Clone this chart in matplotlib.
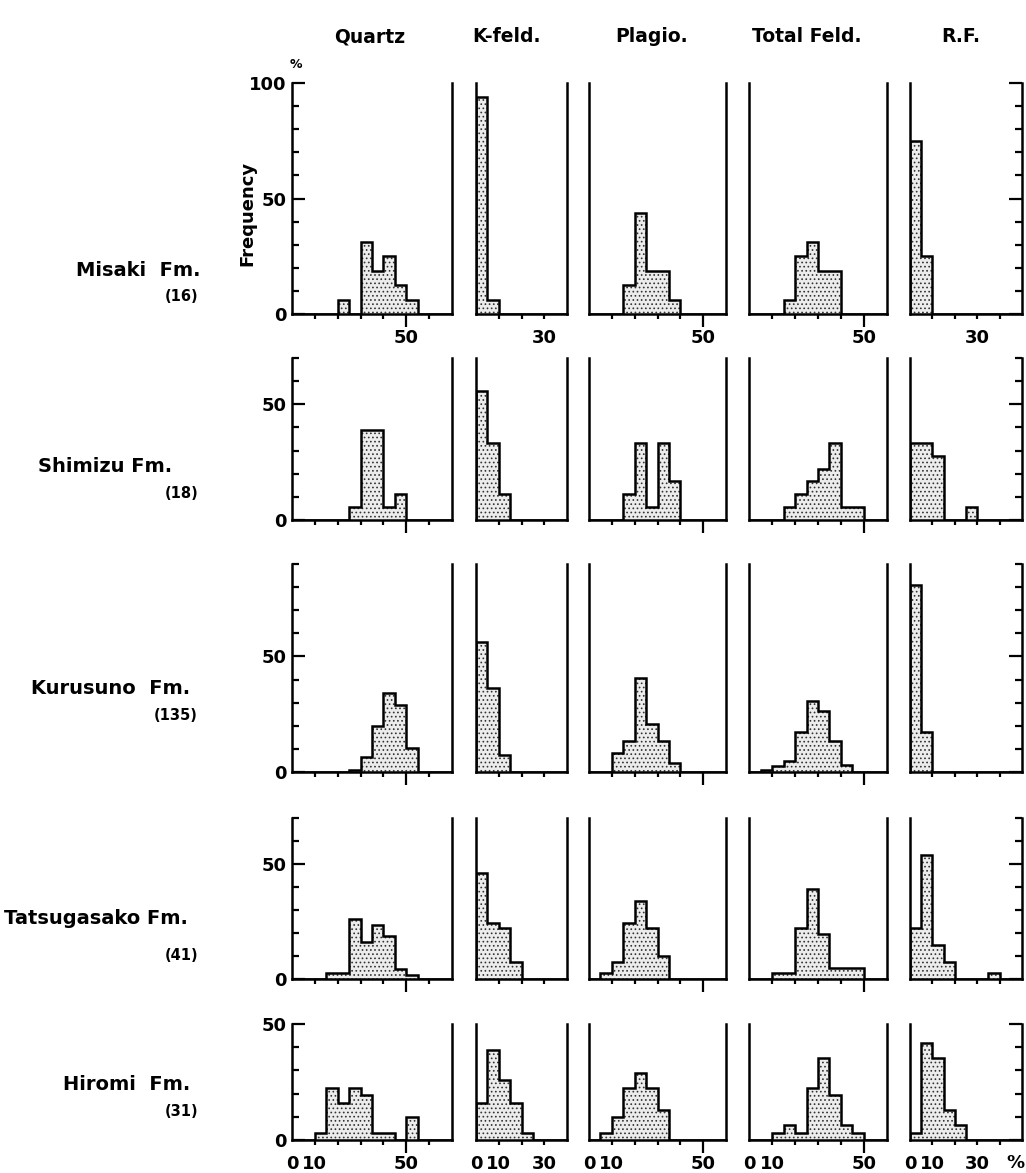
import matplotlib.pyplot as plt

plt.rcParams['font.family'] = ['DejaVu Sans']
plt.rcParams['font.weight'] = 'bold'
plt.rcParams['hatch.linewidth'] = 0.7
plt.rcParams['hatch.color'] = '#222222'

# ---- data (percent of samples in each 5 % class, classes start at 0) ----
formations = ['Misaki  Fm.', 'Shimizu Fm.', 'Kurusuno  Fm.', 'Tatsugasako Fm.', 'Hiromi  Fm.']
counts = ['(16)', '(18)', '(135)', '(41)', '(31)']
minerals = ['Quartz', 'K-feld.', 'Plagio.', 'Total Feld.', 'R.F.']
bin_width = 5
x_max = [70, 40, 60, 60, 50]
y_max = [100, 70, 90, 70, 50]

quartz = [
    [0, 0, 0, 0, 6.25, 0, 31.25, 18.75, 25, 12.5, 6.25, 0, 0, 0],
    [0, 0, 0, 0, 0, 5.6, 38.9, 38.9, 5.6, 11.1, 0, 0, 0, 0],
    [0, 0, 0, 0, 0, 0.7, 6.7, 20.0, 34.1, 28.9, 10.4, 0, 0, 0],
    [0, 0, 0, 2.4, 2.4, 26.3, 15.9, 23.4, 18.7, 4.3, 1.9, 0, 0, 0],
    [0, 0, 3.2, 22.6, 16.1, 22.6, 19.4, 3.2, 3.2, 0, 9.7, 0, 0, 0],
]
kfeld = [
    [93.75, 6.25, 0, 0, 0, 0, 0, 0],
    [55.6, 33.3, 11.1, 0, 0, 0, 0, 0],
    [56.3, 36.3, 7.4, 0, 0, 0, 0, 0],
    [46.3, 24.4, 22.0, 7.3, 0, 0, 0, 0],
    [16.1, 38.7, 25.8, 16.1, 3.2, 0, 0, 0],
]
plagio = [
    [0, 0, 0, 12.5, 43.75, 18.75, 18.75, 6.25, 0, 0, 0, 0],
    [0, 0, 0, 11.1, 33.3, 5.6, 33.3, 16.7, 0, 0, 0, 0],
    [0, 0, 8.3, 13.2, 40.5, 20.8, 13.2, 3.7, 0, 0, 0, 0],
    [0, 2.4, 7.3, 24.4, 34.1, 22.0, 9.8, 0, 0, 0, 0, 0],
    [0, 3.2, 9.7, 22.6, 29.0, 22.6, 12.9, 0, 0, 0, 0, 0],
]
total_feld = [
    [0, 0, 0, 6.25, 25, 31.25, 18.75, 18.75, 0, 0, 0, 0],
    [0, 0, 0, 5.6, 11.1, 16.7, 22.2, 33.3, 5.6, 5.6, 0, 0],
    [0, 0.7, 2.5, 4.8, 17.3, 30.7, 26.3, 13.2, 2.9, 0, 0, 0],
    [0, 0, 2.4, 2.4, 22.0, 39.0, 19.5, 4.9, 4.9, 4.9, 0, 0],
    [0, 0, 3.2, 6.5, 3.2, 22.6, 35.5, 19.4, 6.5, 3.2, 0, 0],
]
rock_frag = [
    [75, 25, 0, 0, 0, 0, 0, 0, 0, 0],
    [33.3, 33.3, 27.8, 0, 0, 5.6, 0, 0, 0, 0],
    [80.7, 17.3, 0, 0, 0, 0, 0, 0, 0, 0],
    [22.0, 53.7, 14.6, 7.3, 0, 0, 0, 2.4, 0, 0],
    [3.2, 41.9, 35.5, 12.9, 6.5, 0, 0, 0, 0, 0],
]
all_data = [quartz, kfeld, plagio, total_feld, rock_frag]

long_ticks = [[50], [], [50], [50], []]
top_labels = [['50'], ['30'], ['50'], ['50'], ['30']]
top_label_x = [[50], [30], [50], [50], [30]]
bottom_labels = [['0', '10', '50'], ['0', '10', '30'], ['0', '10', '50'], ['0', '10', '50'], ['0', '10', '30']]
bottom_label_x = [[0, 10, 50], [0, 10, 30], [0, 10, 50], [0, 10, 50], [0, 10, 30]]

# ---- layout in pixels ----
W, H = 1026, 1173
col_px = [(292, 452), (476, 567), (589, 726), (749, 887), (910, 1022)]
row_px = [(83, 314), (358, 520), (564, 772), (818, 979), (1024, 1140)]
title_x = [370, 506, 652, 807, 961]
name_right = [200, 172, 190, 188, 190]
name_y = [271, 466, 689, 918, 1084]
count_y = [296, 493, 716, 955, 1112]

fig = plt.figure(figsize=(W / 100, H / 100), dpi=100)

for c, name in enumerate(minerals):
    fig.text(title_x[c] / W, 1 - 37 / H, name, ha='center', va='center', fontsize=13.5)

for r in range(5):
    top, base = row_px[r]
    for c in range(5):
        left, right = col_px[c]
        ax = fig.add_axes([left / W, 1 - base / H, (right - left) / W, (base - top) / H])
        vals = all_data[c][r]
        edges = [i * bin_width for i in range(len(vals) + 1)]
        ax.stairs(vals, edges, fill=True, facecolor='#ececec', edgecolor='#333333',
                  hatch='....', linewidth=0)
        ax.stairs(vals, edges, color='black', linewidth=1.8)
        ax.set_xlim(0, x_max[c])
        ax.set_ylim(0, y_max[r])
        ax.spines['top'].set_visible(False)
        for s in ['left', 'right', 'bottom']:
            ax.spines[s].set_linewidth(1.8)

        ax.set_xticks(long_ticks[c])
        ax.set_xticks([v for v in range(10, x_max[c], 10) if v not in long_ticks[c]], minor=True)
        ax.tick_params(axis='x', which='major', direction='out', length=9, width=1.6, labelbottom=False)
        ax.tick_params(axis='x', which='minor', direction='out', length=3.5, width=1.6)

        y_major = [v for v in (0, 50, 100) if v <= y_max[r]]
        y_minor = [v for v in range(10, y_max[r] + 1, 10) if v not in (50, 100)]
        if c == 0:
            ax.set_yticks(y_major, [str(v) for v in y_major])
            ax.set_yticks(y_minor, minor=True)
            ax.tick_params(axis='y', which='major', direction='in', length=9.5, width=1.6,
                           labelsize=13, pad=4)
            ax.tick_params(axis='y', which='minor', direction='in', length=5, width=1.6)
        elif c == 4:
            ax.yaxis.set_ticks_position('right')
            ax.set_yticks(y_major)
            ax.set_yticks(y_minor, minor=True)
            ax.tick_params(axis='y', which='major', direction='in', length=9.5, width=1.6,
                           labelright=False, labelleft=False)
            ax.tick_params(axis='y', which='minor', direction='in', length=5, width=1.6)
        else:
            ax.set_yticks([])

        if r == 0:
            for lab, xv in zip(top_labels[c], top_label_x[c]):
                ax.annotate(lab, (xv, 0), xycoords=('data', 'axes fraction'), xytext=(0, -17),
                            textcoords='offset points', ha='center', va='center', fontsize=13)
        if r == 4:
            for lab, xv in zip(bottom_labels[c], bottom_label_x[c]):
                ax.annotate(lab, (xv, 0), xycoords=('data', 'axes fraction'), xytext=(0, -17),
                            textcoords='offset points', ha='center', va='center', fontsize=13)

    fig.text(name_right[r] / W, 1 - name_y[r] / H, formations[r], ha='right', va='center', fontsize=14)
    fig.text(198 / W, 1 - count_y[r] / H, counts[r], ha='right', va='center', fontsize=10.5)

fig.text(296 / W, 1 - 64 / H, '%', ha='center', va='center', fontsize=9)
fig.text(1015 / W, 1 - 1163 / H, '%', ha='center', va='center', fontsize=13)
fig.text(247 / W, 1 - 213 / H, 'Frequency', rotation=90, ha='center', va='center', fontsize=13)

fig.savefig('out.png', dpi=100)
